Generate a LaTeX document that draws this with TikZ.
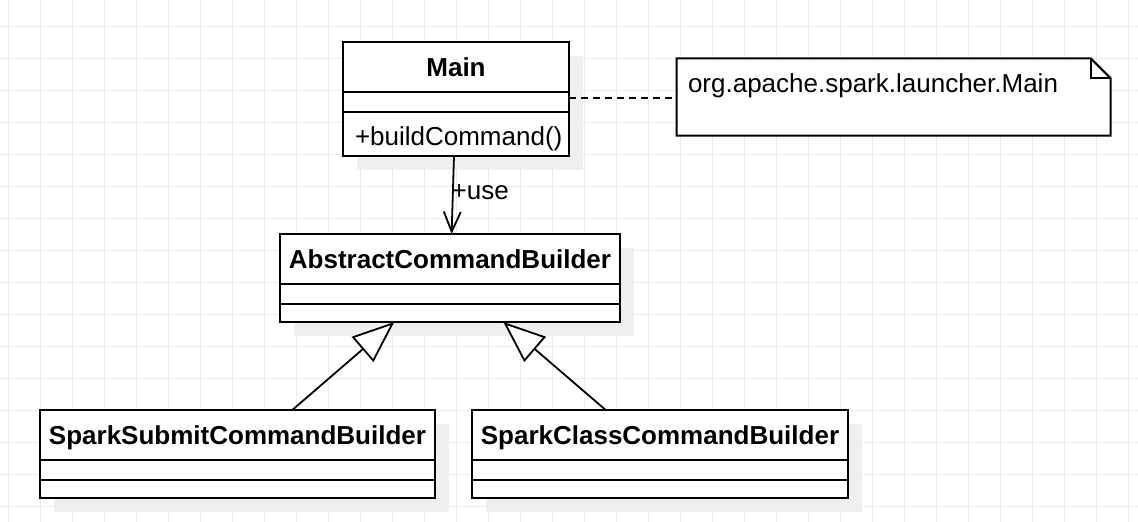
\documentclass[tikz,border=0pt]{standalone}
\usepackage{fontspec}
\setmainfont{Liberation Sans}
\usetikzlibrary{arrows.meta,calc}
\definecolor{gridc}{HTML}{EBEBEB}
\definecolor{shadowc}{HTML}{EFEFEF}
\pgfdeclarelayer{back}
\pgfdeclarelayer{shade}
\pgfsetlayers{back,shade,main}
\begin{document}
\begin{tikzpicture}[x=1pt,y=-1pt,
  classbox/.style={draw=black, line width=2pt, fill=white, rectangle, inner sep=0pt, outer sep=0pt},
  divline/.style={draw=black, line width=2pt},
  txt/.style={font=\fontsize{26}{30}\selectfont, inner sep=0pt, outer sep=0pt},
  btxt/.style={txt, font=\fontsize{26}{30}\selectfont\bfseries},
  conn/.style={draw=black, line width=1.8pt},
  gridline/.style={draw=gridc, line width=1pt},
  shadowbox/.style={fill=shadowc}
]
\useasboundingbox (0,0) rectangle (1138,522);
\begin{pgfonlayer}{back}
  \fill[white] (0,0) rectangle (1138,522);
  \foreach \x in {8,40,...,1136} \draw[gridline] (\x,0) -- (\x,522);
  \foreach \y in {26,58,...,522} \draw[gridline] (0,\y) -- (1138,\y);
\end{pgfonlayer}

% class boxes
\node[classbox, minimum width=226pt, minimum height=114pt] (main) at (456,99) {};
\node[classbox, minimum width=340pt, minimum height=88pt] (abs) at (450,278) {};
\node[classbox, minimum width=395pt, minimum height=88pt] (ssb) at (237.5,454) {};
\node[classbox, minimum width=376.6pt, minimum height=88pt] (scb) at (660,454) {};

\begin{pgfonlayer}{shade}
  \foreach \n in {main,abs,ssb,scb}
    \fill[shadowbox] ([shift={(14pt,-14pt)}]\n.north west) rectangle ([shift={(14pt,-14pt)}]\n.south east);
\end{pgfonlayer}

% compartment dividers
\foreach \n in {main,abs,ssb,scb}{
  \draw[divline] ([yshift=-50pt]\n.north west) -- ([yshift=-50pt]\n.north east);
  \draw[divline] ([yshift=-70pt]\n.north west) -- ([yshift=-70pt]\n.north east);
}

% names
\node[btxt, anchor=base] (mainname) at ($(main.north)+(0,34)$) {Main};
\node[btxt, anchor=base] (absname) at ($(abs.north)+(0,34)$) {AbstractCommandBuilder};
\node[btxt, anchor=base] (ssbname) at ($(ssb.north)+(0,34)$) {SparkSubmitCommandBuilder};
\node[btxt, anchor=base] (scbname) at ($(scb.north)+(0,34)$) {SparkClassCommandBuilder};
\node[txt, anchor=base west] (mainop) at (355,145) {+buildCommand()};

% note
\node[rectangle, inner sep=0pt, outer sep=0pt, minimum width=434pt, minimum height=77.4pt] (note) at (893.7,97) {};
\draw[line width=2pt, fill=white, line join=miter]
  (note.north west) -- ([xshift=-20pt]note.north east) -- ([yshift=-20pt]note.north east)
  -- (note.south east) -- (note.south west) -- cycle;
\draw[line width=2pt] ([xshift=-20pt]note.north east) |- ([yshift=-20pt]note.north east);
\node[txt, anchor=base west] (notetext) at (688,92.5) {org.apache.spark.launcher.Main};

% connectors
\draw[conn, dash pattern=on 7pt off 5pt] (main.east |- 0,98.3) -- (note.west |- 0,98.3);
\draw[conn, -{Straight Barb[length=20pt, width=17pt]}] ([xshift=-2pt]main.south) -- ([xshift=1.6pt]abs.north)
  node[txt, pos=0.555, anchor=base west, xshift=-1pt] (uselabel) {+use};
\draw[conn, -{Triangle[length=42pt, width=33pt, fill=white]}] ([xshift=54.8pt]ssb.north) -- ([xshift=-55.7pt]abs.south);
\draw[conn, -{Triangle[length=42pt, width=33pt, fill=white]}] ([xshift=-54.3pt]scb.north) -- ([xshift=53.3pt]abs.south);
\end{tikzpicture}
\end{document}
